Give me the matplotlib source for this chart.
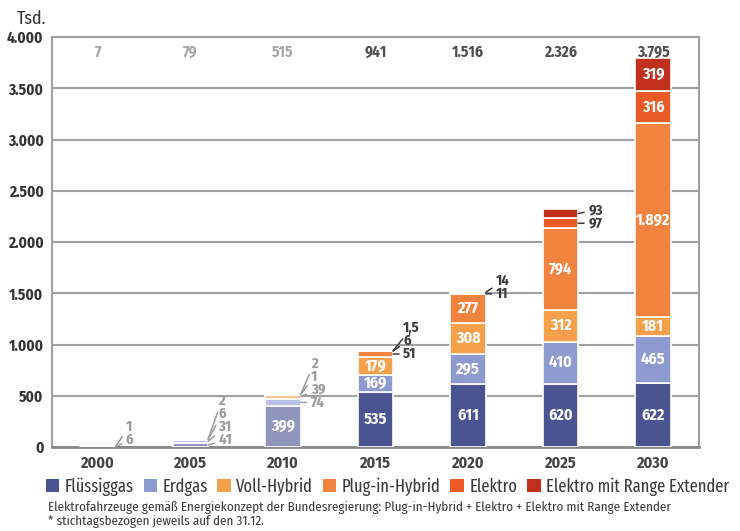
import matplotlib
matplotlib.use("Agg")
import matplotlib.pyplot as plt
from matplotlib.patches import Patch
import numpy as np

plt.rcParams['font.family'] = ['Fira Sans Condensed', 'DejaVu Sans']

years = ["2000", "2005", "2010", "2015", "2020", "2025", "2030"]
series_names = ["Flüssiggas", "Erdgas", "Voll-Hybrid", "Plug-in-Hybrid", "Elektro", "Elektro mit Range Extender"]
fluessiggas = [6, 41, 399, 535, 611, 620, 622]
erdgas = [1, 31, 74, 169, 295, 410, 465]
voll_hybrid = [0, 6, 39, 179, 308, 312, 181]
plug_in_hybrid = [0, 0, 1, 51, 277, 794, 1892]
elektro = [0, 2, 2, 6, 11, 97, 316]
range_extender = [0, 0, 0, 1.5, 14, 93, 319]
totals = ["7", "79", "515", "941", "1.516", "2.326", "3.795"]
faded_years = ["2000", "2005", "2010"]
yticks = [0, 500, 1000, 1500, 2000, 2500, 3000, 3500, 4000]

colors = ["#4a5491", "#8e9bd0", "#f7a04b", "#f0843f", "#e95a24", "#c1301d"]
series = [fluessiggas, erdgas, voll_hybrid, plug_in_hybrid, elektro, range_extender]


def fade(c, a=0.62):
    rgb = np.array(matplotlib.colors.to_rgb(c))
    return tuple(rgb * a + (1 - a))


def fmt(v):
    if float(v).is_integer():
        return f"{int(v):,}".replace(",", ".")
    return f"{v}".replace(".", ",")


fig = plt.figure(figsize=(7.40, 5.31), dpi=100)
ax = fig.add_axes([0.070, 0.158, 0.875, 0.772])

x = np.arange(len(years))
width = 0.38
bottoms = np.zeros(len(years))
px_per_unit = 410 / 4000.0
step = 13 / px_per_unit
min_label_y = 68

outside = {i: [] for i in range(len(years))}
for si, vals in enumerate(series):
    vals = np.array(vals, dtype=float)
    for i in range(len(years)):
        v = vals[i]
        if v <= 0:
            continue
        faded = years[i] in faded_years
        col = fade(colors[si]) if faded else colors[si]
        ax.bar(x[i], v, width, bottom=bottoms[i], color=col, edgecolor="white",
               linewidth=1.2, zorder=3)
        mid = bottoms[i] + v / 2
        if v >= 150:
            ax.text(x[i], mid, fmt(v), ha="center", va="center", color="white",
                    fontsize=11.5, fontweight="bold", zorder=4)
        else:
            outside[i].append((mid, v))
    bottoms += vals

for i, items in outside.items():
    faded = years[i] in faded_years
    tcol = "#9a9a9a" if faded else "#3c3c3c"
    prev = None
    right = x[i] + width / 2
    for mid, v in items:
        ly = max(mid, min_label_y)
        if prev is not None:
            ly = max(ly, prev + step)
        prev = ly
        ax.annotate(fmt(v), xy=(right, mid), xytext=(right + 0.11, ly),
                    ha="left", va="center", fontsize=10.5, fontweight="bold",
                    color=tcol,
                    arrowprops=dict(arrowstyle="-", color=tcol, lw=1.1,
                                    shrinkA=1, shrinkB=0), zorder=4)

for i, t in enumerate(totals):
    faded = years[i] in faded_years
    ax.text(x[i], 3853, t, ha="center", va="center", fontsize=11,
            fontweight="bold", color="#a6a6a6" if faded else "#505050")

ax.set_xlim(-0.5, 6.5)
ax.set_ylim(0, 4000)
ax.set_yticks(yticks)
ax.set_yticklabels([fmt(t) for t in yticks], fontsize=11, fontweight="bold",
                   color="#333333")
ax.set_xticks(x)
ax.set_xticklabels(years, fontsize=11.5, fontweight="bold", color="#444444")
ax.tick_params(length=0, pad=6)
ax.yaxis.grid(True, color="#a0a0a0", linewidth=1.5, zorder=0)
ax.set_axisbelow(True)
for s in ax.spines.values():
    s.set_color("#a0a0a0")
    s.set_linewidth(1.5)
ax.spines["bottom"].set_color("#8a8a8a")
ax.spines["bottom"].set_linewidth(2)

fig.text(0.022, 0.965, "Tsd.", fontsize=13, color="#333333", va="center")

handles = [Patch(facecolor=c, edgecolor="none") for c in colors]
fig.legend(handles, series_names, loc="center left", bbox_to_anchor=(0.062, 0.083),
           ncol=6, frameon=False, handlelength=0.75, handleheight=0.75,
           handletextpad=0.3, columnspacing=0.55, borderaxespad=0, borderpad=0,
           labelcolor="#3a3a3a",
           prop=dict(family=['Fira Sans Extra Condensed', 'DejaVu Sans'], size=12.9))

fig.text(0.065, 0.045, "Elektrofahrzeuge gemäß Energiekonzept der Bundesregierung: Plug-in-Hybrid + Elektro + Elektro mit Range Extender",
         fontsize=9.4, color="#3a3a3a", va="center")
fig.text(0.065, 0.017, "* stichtagsbezogen jeweils auf den 31.12.",
         fontsize=9.4, color="#3a3a3a", va="center")

fig.savefig("out.png", dpi=100)
